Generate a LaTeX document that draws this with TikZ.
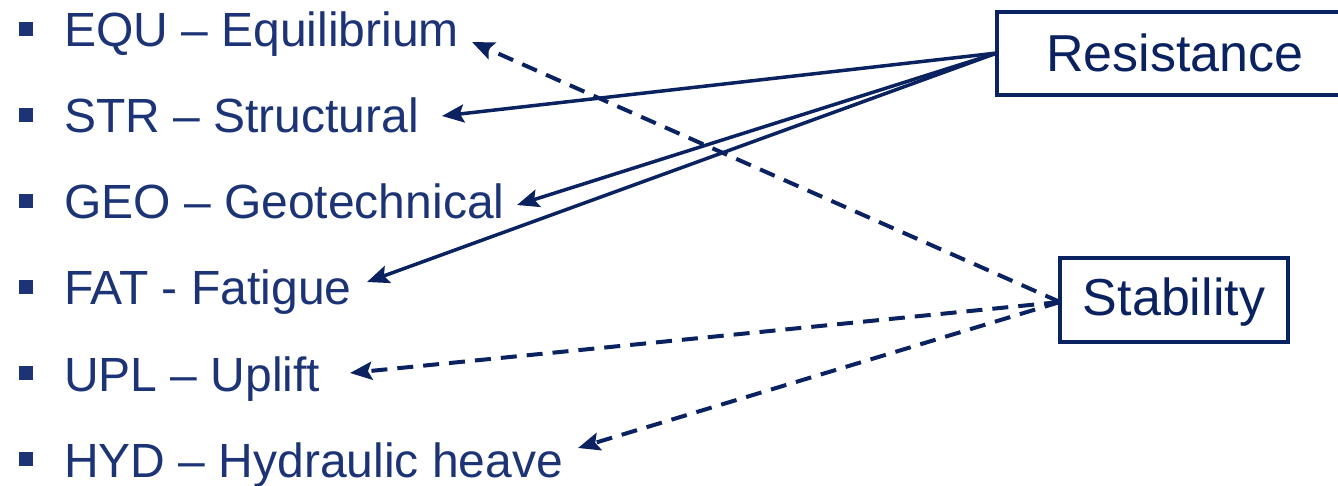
\documentclass[tikz,border=0pt]{standalone}
\usepackage{fontspec}
\setmainfont{Liberation Sans}
\usetikzlibrary{arrows.meta}
\definecolor{txtblue}{RGB}{28,52,118}
\definecolor{navy}{RGB}{10,34,96}
\begin{document}
\begin{tikzpicture}[x=1pt,y=-1pt,
  item/.style={anchor=base west,inner sep=0pt,text=txtblue,font=\fontsize{48}{58}\selectfont},
  bul/.style={fill=txtblue,minimum size=14pt,inner sep=0pt},
  catbox/.style={draw=navy,line width=3.5pt,inner sep=0pt,text=navy,font=\fontsize{52}{62}\selectfont,text depth=0pt},
  link/.style={draw=navy,line width=3.5pt,-{Stealth[length=22pt,width=18pt,inset=4pt]}},
  dlink/.style={link,line width=4pt,dash pattern=on 16pt off 10pt}]
\useasboundingbox (0,0) rectangle (1338,486);
% list
\foreach \n/\t [count=\i from 0] in {equ/{EQU -- Equilibrium},str/{STR -- Structural},geo/{GEO -- Geotechnical},fat/{FAT - Fatigue},upl/{UPL -- Uplift},hyd/{HYD -- Hydraulic heave}}{
  \node[bul] (b\n) at (25.5,{29+86*\i}) {};
  \node[item] (\n) at (64,{47+86*\i}) {\t};
}
% boxes
\node[catbox,minimum width=356pt,minimum height=83pt,text height=37pt] (res) at (1175,53.5) {Resistance};
\node[catbox,minimum width=228pt,minimum height=84pt,text height=31pt] (stab) at (1174,300) {Stability};
% tips
\coordinate (tequ) at (472,42);
\coordinate (tstr) at (442,116);
\coordinate (tgeo) at (517,205);
\coordinate (tfat) at (367,282);
\coordinate (tupl) at (350,373);
\coordinate (thyd) at (578,448);
\coordinate (rs) at (997,53);
\coordinate (ss) at (1060,302);
% connectors
\draw[link] (rs) -- (tstr);
\draw[link] (rs) -- (tgeo);
\draw[link] (rs) -- (tfat);
\draw[dlink] (ss) -- (tequ);
\draw[dlink] (ss) -- (tupl);
\draw[dlink] (ss) -- (thyd);
\end{tikzpicture}
\end{document}
